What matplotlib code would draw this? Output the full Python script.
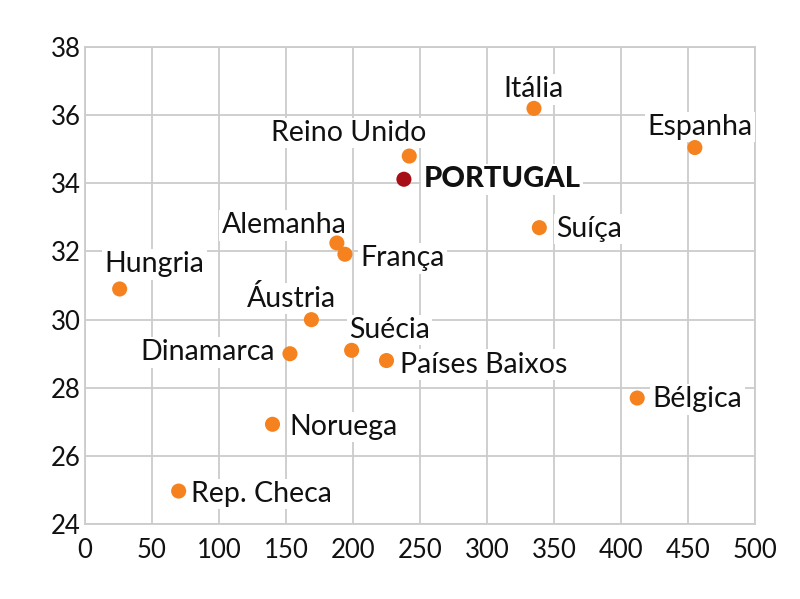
import matplotlib
matplotlib.use('Agg')
import matplotlib.pyplot as plt

countries = ['Itália', 'Espanha', 'Reino Unido', 'PORTUGAL', 'Suíça', 'Alemanha',
             'França', 'Hungria', 'Áustria', 'Suécia', 'Dinamarca', 'Países Baixos',
             'Bélgica', 'Noruega', 'Rep. Checa']
x_vals = [335, 455, 242, 238, 339, 188, 194, 26, 169, 199, 153, 225, 412, 140, 70]
y_vals = [36.2, 35.05, 34.8, 34.12, 32.7, 32.25, 31.92, 30.9, 30.0, 29.1, 29.0, 28.8,
          27.7, 26.93, 24.97]

x_ticks = [0, 50, 100, 150, 200, 250, 300, 350, 400, 450, 500]
y_ticks = [24, 26, 28, 30, 32, 34, 36, 38]

# label placement: offset in points, horizontal / vertical alignment
label_pos = {
    'Itália': ((0, 8), 'center', 'baseline'),
    'Espanha': ((3.5, 9), 'center', 'baseline'),
    'Reino Unido': ((12, 11), 'right', 'baseline'),
    'PORTUGAL': ((14, 0), 'left', 'center'),
    'Suíça': ((12, -1), 'left', 'center'),
    'Alemanha': ((7, 7), 'right', 'baseline'),
    'França': ((11, -3), 'left', 'center'),
    'Hungria': ((-11, 12), 'left', 'baseline'),
    'Áustria': ((18, 9), 'right', 'baseline'),
    'Suécia': ((-2, 9), 'left', 'baseline'),
    'Dinamarca': ((-11, 1), 'right', 'center'),
    'Países Baixos': ((10, -3), 'left', 'center'),
    'Bélgica': ((11, -1), 'left', 'center'),
    'Noruega': ((12, -2), 'left', 'center'),
    'Rep. Checa': ((9, -2), 'left', 'center'),
}

orange = '#f5821f'
dark_red = '#a50f15'
grid_color = '#cccccc'

plt.rcParams['font.family'] = ['Lato', 'DejaVu Sans']

fig = plt.figure(figsize=(8, 5.99), dpi=100)
ax = fig.add_axes([0.106, 0.125, 0.838, 0.7965])

colors = [dark_red if c == 'PORTUGAL' else orange for c in countries]
ax.scatter(x_vals, y_vals, s=118, c=colors, zorder=4, linewidths=0)

for name, x, y in zip(countries, x_vals, y_vals):
    off, ha, va = label_pos[name]
    if name == 'PORTUGAL':
        weight, size = 'black', 21
    else:
        weight, size = 'normal', 20.5
    ax.annotate(name, (x, y), xytext=off, textcoords='offset points',
                ha=ha, va=va, fontsize=size, fontweight=weight, color='#111111',
                zorder=3,
                bbox=dict(boxstyle='square,pad=0.08', fc='white', ec='none'))

ax.set_xlim(0, 500)
ax.set_ylim(24, 38)
ax.set_xticks(x_ticks)
ax.set_yticks(y_ticks)
ax.tick_params(axis='both', length=0, labelsize=18.5, colors='#111111')
ax.tick_params(axis='x', pad=10)
ax.tick_params(axis='y', pad=3)
ax.grid(True, color=grid_color, linewidth=1.3, zorder=0)
ax.set_axisbelow(True)
for s in ax.spines.values():
    s.set_color(grid_color)
    s.set_linewidth(1.3)

plt.savefig('out.png', dpi=100)
